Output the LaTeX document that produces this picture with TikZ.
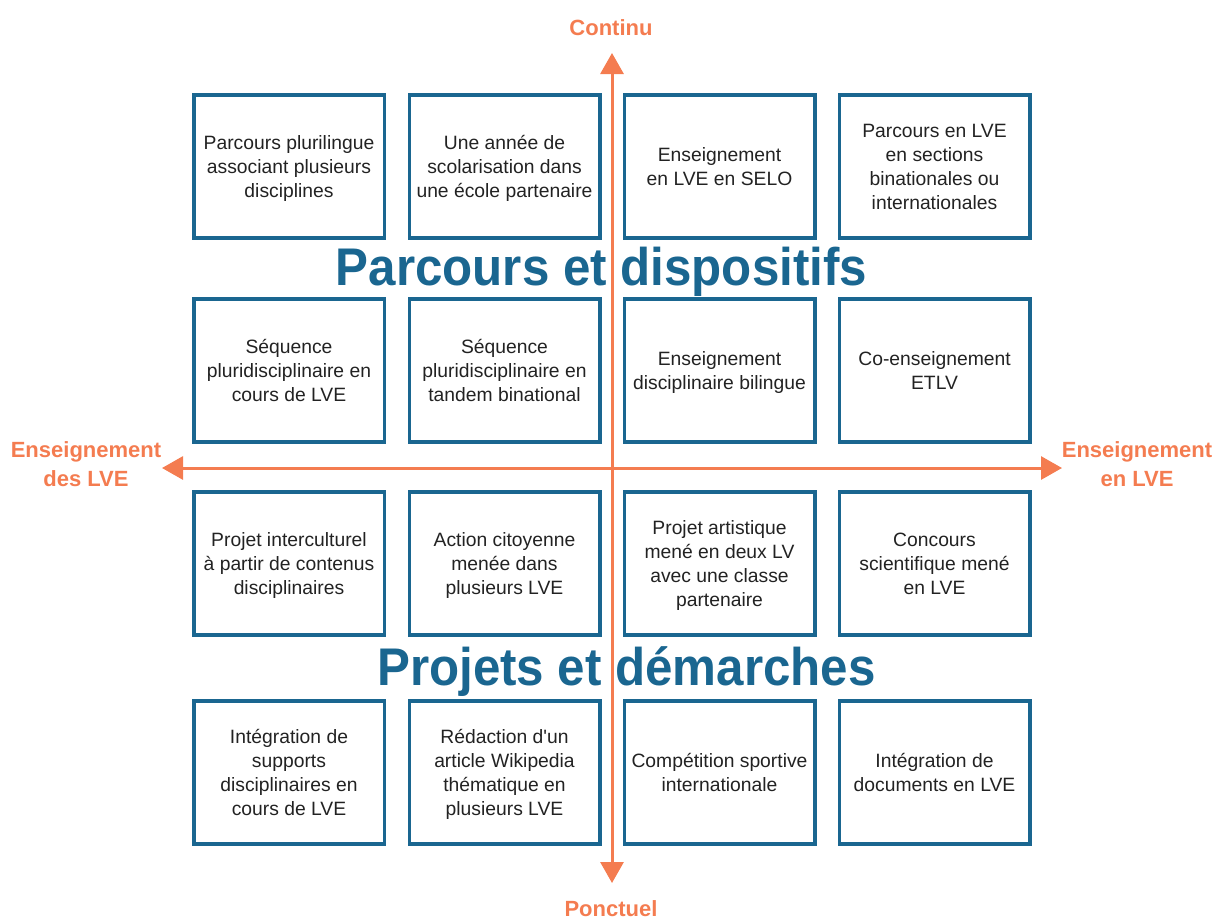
\documentclass[tikz,border=0pt]{standalone}
\usepackage{fontspec}
\setmainfont{Liberation Sans}
\newfontfamily\titlefont[FakeStretch=0.93]{Liberation Sans}
\usepackage{xcolor}
\usepackage{tikz}
\usetikzlibrary{arrows.meta,positioning}
\definecolor{boxblue}{HTML}{1A6690}
\definecolor{axisorange}{HTML}{F47C50}
\definecolor{textgray}{HTML}{222222}

\begin{document}
\begin{tikzpicture}[x=1pt,y=-1pt,
    box/.style={draw=boxblue, line width=3.5pt, minimum width=190.5pt, minimum height=143pt,
        inner sep=0pt, align=center, text depth=-0.5pt, text=textgray, font=\fontsize{19.3}{24}\selectfont},
    axis/.style={draw=axisorange, line width=3pt,
        {Triangle[length=21pt,width=23pt]}-{Triangle[length=21pt,width=23pt]}},
    axislabel/.style={text=axisorange, align=center, inner sep=0pt,
        font=\bfseries\fontsize{22}{29}\selectfont},
    bigtitle/.style={text=boxblue, inner sep=0pt, font=\titlefont\bfseries\fontsize{53}{60}\selectfont}]
    \useasboundingbox (0,0) rectangle (1214,919);
    \coordinate (up) at (612,53);
    \coordinate (down) at (612,883);
    \coordinate (left) at (162,468);
    \coordinate (right) at (1062,468);
    \draw[axis] (down) -- (up);
    \draw[axis] (left) -- (right);
    \node[axislabel, anchor=base] (continu) at (611,35) {Continu};
    \node[axislabel, anchor=base] (ponctuel) at (611,916) {Ponctuel};
    \node[axislabel] (des) at (86,464) {Enseignement\\des LVE};
    \node[axislabel] (en) at (1137,464) {Enseignement\\en LVE};
    \node[box] (b11) at (289,166.7) {Parcours plurilingue\\associant plusieurs\\disciplines};
    \node[box] (b12) at (504.5,166.7) {Une année de\\scolarisation dans\\une école partenaire};
    \node[box] (b13) at (719.5,166.7) {Enseignement\\en LVE en SELO};
    \node[box] (b14) at (934.5,166.7) {Parcours en LVE\\en sections\\binationales ou\\internationales};
    \node[box] (b21) at (289,370.5) {Séquence\\pluridisciplinaire en\\cours de LVE};
    \node[box] (b22) at (504.5,370.5) {Séquence\\pluridisciplinaire en\\tandem binational};
    \node[box] (b23) at (719.5,370.5) {Enseignement\\disciplinaire bilingue};
    \node[box] (b24) at (934.5,370.5) {Co-enseignement\\ETLV};
    \node[box] (b31) at (289,563.7) {Projet interculturel\\à partir de contenus\\disciplinaires};
    \node[box] (b32) at (504.5,563.7) {Action citoyenne\\menée dans\\plusieurs LVE};
    \node[box] (b33) at (719.5,563.7) {Projet artistique\\mené en deux LV\\avec une classe\\partenaire};
    \node[box] (b34) at (934.5,563.7) {Concours\\scientifique mené\\en LVE};
    \node[box] (b41) at (289,772.3) {Intégration de\\supports\\disciplinaires en\\cours de LVE};
    \node[box] (b42) at (504.5,772.3) {Rédaction d\textquotesingle un\\article Wikipedia\\thématique en\\plusieurs LVE};
    \node[box] (b43) at (719.5,772.3) {Compétition sportive\\internationale};
    \node[box] (b44) at (934.5,772.3) {Intégration de\\documents en LVE};
    \node[bigtitle, anchor=base] (parcours) at (601.5,285) {Parcours et dispositifs};
    \node[bigtitle, anchor=base] (projets) at (626.5,685) {Projets et démarches};
\end{tikzpicture}
\end{document}
